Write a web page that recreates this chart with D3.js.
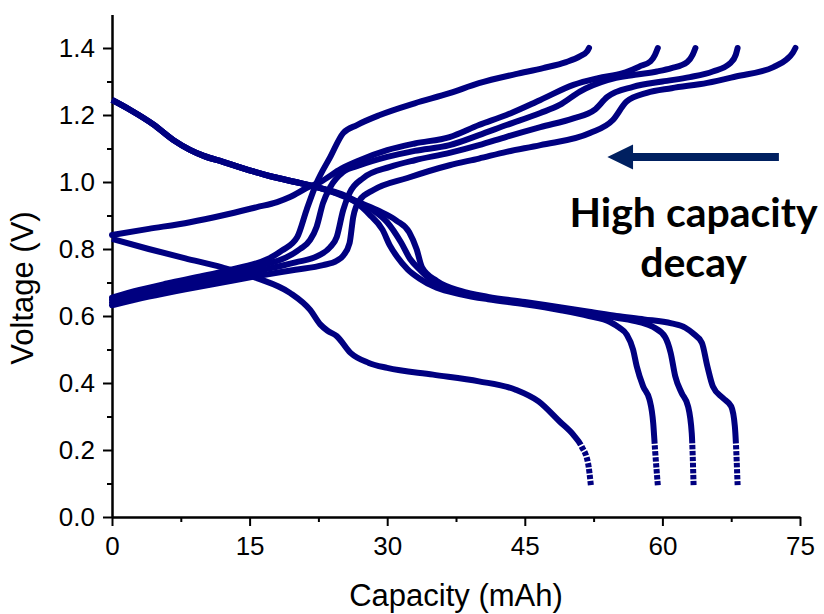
<!DOCTYPE html>
<html>
<head>
<meta charset="utf-8">
<script src="https://cdn.jsdelivr.net/npm/d3@7"></script>
<style>
    body { margin: 0; background: #fff; }
    .tick text { font-family: "Liberation Sans", Arial, sans-serif; }
    .axis-title { font-family: "Liberation Sans", Arial, sans-serif; }
    .note { font-family: Lato, "Open Sans", sans-serif; font-weight: bold; }
</style>
</head>
<body>
<div id="chart"></div>
<script>
// [capacity (mAh), voltage (V)]
const dischargeFirst = [[0, 0.83], [4, 0.80], [8, 0.772], [12, 0.745], [15.8, 0.713], [19.4, 0.669], [21.6, 0.618],
    [22.7, 0.575], [23.5, 0.556], [24.5, 0.54], [26, 0.49], [28, 0.46], [30, 0.445], [35, 0.425], [40, 0.405],
    [44, 0.38], [46.5, 0.345], [48.8, 0.285], [50.3, 0.245], [51.2, 0.21], [51.9, 0.16], [52.2, 0.095]];

const dischargeA = [[0, 1.245], [2, 1.215], [4.5, 1.172], [6.7, 1.125], [8.5, 1.096], [10, 1.078], [12.1, 1.06],
    [15, 1.035], [17.6, 1.015], [20, 1.0], [22.7, 0.982], [25, 0.96], [26.7, 0.937], [28, 0.905], [29.5, 0.857],
    [30.3, 0.81], [31.1, 0.776], [32.2, 0.74], [33.5, 0.712], [35.4, 0.684], [38, 0.665], [41, 0.65], [45, 0.635],
    [48.8, 0.618], [52, 0.6], [54.3, 0.582], [55.3, 0.565], [56.1, 0.545], [56.8, 0.5], [57.2, 0.45], [57.9, 0.39],
    [58.6, 0.35], [59.0, 0.28], [59.2, 0.2], [59.5, 0.095]];

const dischargeB = [[0, 1.245], [2, 1.215], [4.5, 1.172], [6.7, 1.125], [8.5, 1.096], [10, 1.078], [12.1, 1.06],
    [15, 1.035], [17.6, 1.015], [20, 1.0], [22.7, 0.982], [25, 0.962], [26.7, 0.94], [28.5, 0.915], [30, 0.88],
    [31.5, 0.82], [32.5, 0.77], [33.6, 0.737], [35.4, 0.695], [38, 0.67], [41, 0.653], [45, 0.638], [48.8, 0.622],
    [52, 0.608], [55, 0.595], [57.5, 0.582], [59, 0.567], [60.3, 0.537], [60.9, 0.49], [61.4, 0.42], [62.1, 0.37],
    [62.8, 0.33], [63.2, 0.25], [63.4, 0.095]];

const dischargeC = [[0, 1.245], [2, 1.215], [4.5, 1.172], [6.7, 1.125], [8.5, 1.096], [10, 1.078], [12.1, 1.06],
    [15, 1.035], [17.6, 1.015], [20, 1.0], [22.7, 0.982], [25, 0.964], [26.7, 0.942], [29, 0.915], [31, 0.885],
    [32.4, 0.85], [33.2, 0.8], [33.8, 0.745], [35.4, 0.705], [38, 0.675], [41, 0.657], [45, 0.642], [48.8, 0.626],
    [52, 0.613], [55, 0.6], [58, 0.59], [61, 0.578], [62.5, 0.565], [63.3, 0.549], [64.3, 0.52], [64.9, 0.45],
    [65.5, 0.39], [66.6, 0.355], [67.5, 0.33], [67.9, 0.27], [68.2, 0.095]];

const chargeFirst = [[0, 0.655], [3, 0.678], [6, 0.697], [10, 0.72], [14, 0.745], [17, 0.77], [18.5, 0.795],
    [20.2, 0.836], [21.2, 0.916], [22.3, 0.997], [23.8, 1.075], [25.2, 1.146], [26.7, 1.17], [29.2, 1.2],
    [33, 1.235], [36.8, 1.265], [40, 1.295], [44, 1.322], [47, 1.34], [49.5, 1.358], [51, 1.375], [51.8, 1.39],
    [52, 1.4]];

const chargeA = [[0, 0.842], [4, 0.86], [8.5, 0.88], [12, 0.9], [15.8, 0.925], [18, 0.94], [19.4, 0.955],
    [21.2, 0.982], [22.7, 1.0], [25, 1.04], [27, 1.065], [30, 1.095], [33, 1.115], [36.8, 1.134], [40, 1.17],
    [43, 1.2], [46.7, 1.245], [50.3, 1.29], [53, 1.31], [55.7, 1.325], [57.5, 1.345], [58.7, 1.36], [59.2, 1.38],
    [59.5, 1.4]];

const chargeB = [[0, 0.648], [4, 0.675], [8, 0.70], [12, 0.725], [16, 0.75], [19, 0.775], [20.5, 0.80],
    [21.6, 0.827], [22.3, 0.866], [23, 0.937], [23.8, 0.985], [25.2, 1.03], [27, 1.05], [30, 1.075], [33, 1.093],
    [36.8, 1.11], [40, 1.14], [43, 1.17], [46.7, 1.206], [48.8, 1.23], [51, 1.27], [54, 1.304], [57, 1.32],
    [59.4, 1.33], [61, 1.34], [62.7, 1.358], [63.3, 1.38], [63.6, 1.4]];

const chargeC = [[0, 0.64], [4, 0.665], [8, 0.69], [12, 0.712], [16, 0.735], [20, 0.76], [22.5, 0.78],
    [23.8, 0.806], [24.5, 0.836], [25.2, 0.916], [25.9, 0.967], [27.4, 1.012], [30.3, 1.045], [33, 1.065],
    [36.8, 1.087], [40, 1.11], [43, 1.135], [46.7, 1.164], [50.3, 1.19], [52.6, 1.215], [54, 1.254],
    [56.8, 1.284], [60, 1.3], [63, 1.313], [65.5, 1.33], [67.4, 1.355], [68, 1.38], [68.2, 1.4]];

const chargeD = [[0, 0.632], [4, 0.658], [8, 0.68], [12, 0.70], [16, 0.72], [20, 0.738], [23, 0.752],
    [24.5, 0.765], [25.2, 0.78], [25.9, 0.818], [26.3, 0.896], [27, 0.946], [28.5, 0.976], [32.2, 1.012],
    [36.8, 1.05], [40, 1.07], [43, 1.09], [46.7, 1.11], [52.1, 1.146], [54.6, 1.185], [56.1, 1.24],
    [58.3, 1.266], [61, 1.28], [64.9, 1.296], [68, 1.315], [72.1, 1.343], [73.5, 1.365], [74.2, 1.385],
    [74.5, 1.4]];

const discharges = [dischargeFirst, dischargeA, dischargeB, dischargeC];
const charges = [chargeFirst, chargeA, chargeB, chargeC, chargeD];

const xTicks = [0, 15, 30, 45, 60, 75];
const xMinorTicks = [7.5, 22.5, 37.5, 52.5, 67.5];
const yTicks = [0.0, 0.2, 0.4, 0.6, 0.8, 1.0, 1.2, 1.4];
const yMinorTicks = [0.1, 0.3, 0.5, 0.7, 0.9, 1.1, 1.3];

const noteLines = ["High capacity", "decay"];

const width = 824, height = 614;
const margin = {top: 14.5, right: 24, bottom: 97, left: 112};
const lineColor = "#000080";

const svg = d3.select("#chart")
    .append("svg")
    .attr("width", width)
    .attr("height", height);

const x = d3.scaleLinear()
    .domain([0, 75])
    .range([margin.left, width - margin.right]);

const y = d3.scaleLinear()
    .domain([0, 1.5])
    .range([height - margin.bottom, margin.top]);

// axes
svg.append("g")
    .attr("transform", "translate(0," + y(0) + ")")
    .call(d3.axisBottom(x).tickValues(xTicks).tickSize(9).tickSizeOuter(0).tickPadding(11));
svg.append("g")
    .attr("transform", "translate(0," + y(0) + ")")
    .call(d3.axisBottom(x).tickValues(xMinorTicks).tickSize(5).tickSizeOuter(0).tickFormat(""));

svg.append("g")
    .attr("transform", "translate(" + x(0) + ",0)")
    .call(d3.axisLeft(y).tickValues(yTicks).tickSize(9).tickSizeOuter(0).tickPadding(8)
        .tickFormat(d3.format(".1f")));
svg.append("g")
    .attr("transform", "translate(" + x(0) + ",0)")
    .call(d3.axisLeft(y).tickValues(yMinorTicks).tickSize(5).tickSizeOuter(0).tickFormat(""));

svg.selectAll(".domain, .tick line")
    .attr("stroke", "#000")
    .attr("stroke-width", 2);
svg.selectAll(".tick text")
    .attr("font-size", "26px")
    .attr("fill", "#000");

svg.append("text")
    .attr("class", "axis-title")
    .attr("x", (x(0) + x(75)) / 2)
    .attr("y", 606)
    .attr("text-anchor", "middle")
    .attr("font-size", "31px")
    .text("Capacity (mAh)");

svg.append("text")
    .attr("class", "axis-title")
    .attr("transform", "translate(33," + 288 + ") rotate(-90)")
    .attr("text-anchor", "middle")
    .attr("font-size", "31px")
    .text("Voltage (V)");

// curves
const line = d3.line()
    .x(d => x(d[0]))
    .y(d => y(d[1]))
    .curve(d3.curveMonotoneX);

svg.selectAll(".charge")
    .data(charges)
    .enter()
    .append("path")
    .attr("class", "charge")
    .attr("d", line)
    .attr("fill", "none")
    .attr("stroke", lineColor)
    .attr("stroke-width", 6)
    .attr("stroke-linecap", "round")
    .attr("stroke-linejoin", "round");

// discharge ends get sparse near cut-off, so the tail is drawn as separate dots
svg.selectAll(".discharge")
    .data(discharges)
    .enter()
    .append("path")
    .attr("class", "discharge")
    .attr("d", line)
    .attr("fill", "none")
    .attr("stroke", lineColor)
    .attr("stroke-width", 6)
    .attr("stroke-linejoin", "round")
    .attr("stroke-dasharray", function () {
        const len = this.getTotalLength();
        const tail = 42;
        const parts = [len - tail];
        let used = len - tail;
        while (used < len) {
            parts.push(1.6, 4.4);
            used += 6;
        }
        parts.push(0, 1000);
        return parts.join(",");
    });

// arrow
const ay = y(1.075);
const tipX = x(54.0), headX = x(56.8), tailX = x(72.7);
svg.append("path")
    .attr("d", `M${tipX},${ay} L${headX},${ay - 12.5} L${headX},${ay - 4} L${tailX},${ay - 4}` +
        ` L${tailX},${ay + 4} L${headX},${ay + 4} L${headX},${ay + 12.5} Z`)
    .attr("fill", "#002060");

svg.selectAll(".note")
    .data(noteLines)
    .enter()
    .append("text")
    .attr("class", "note")
    .attr("x", x(63.4))
    .attr("y", (d, i) => y(0.866) + i * 50)
    .attr("text-anchor", "middle")
    .attr("font-size", "41px")
    .attr("fill", "#000")
    .text(d => d);
</script>
</body>
</html>
